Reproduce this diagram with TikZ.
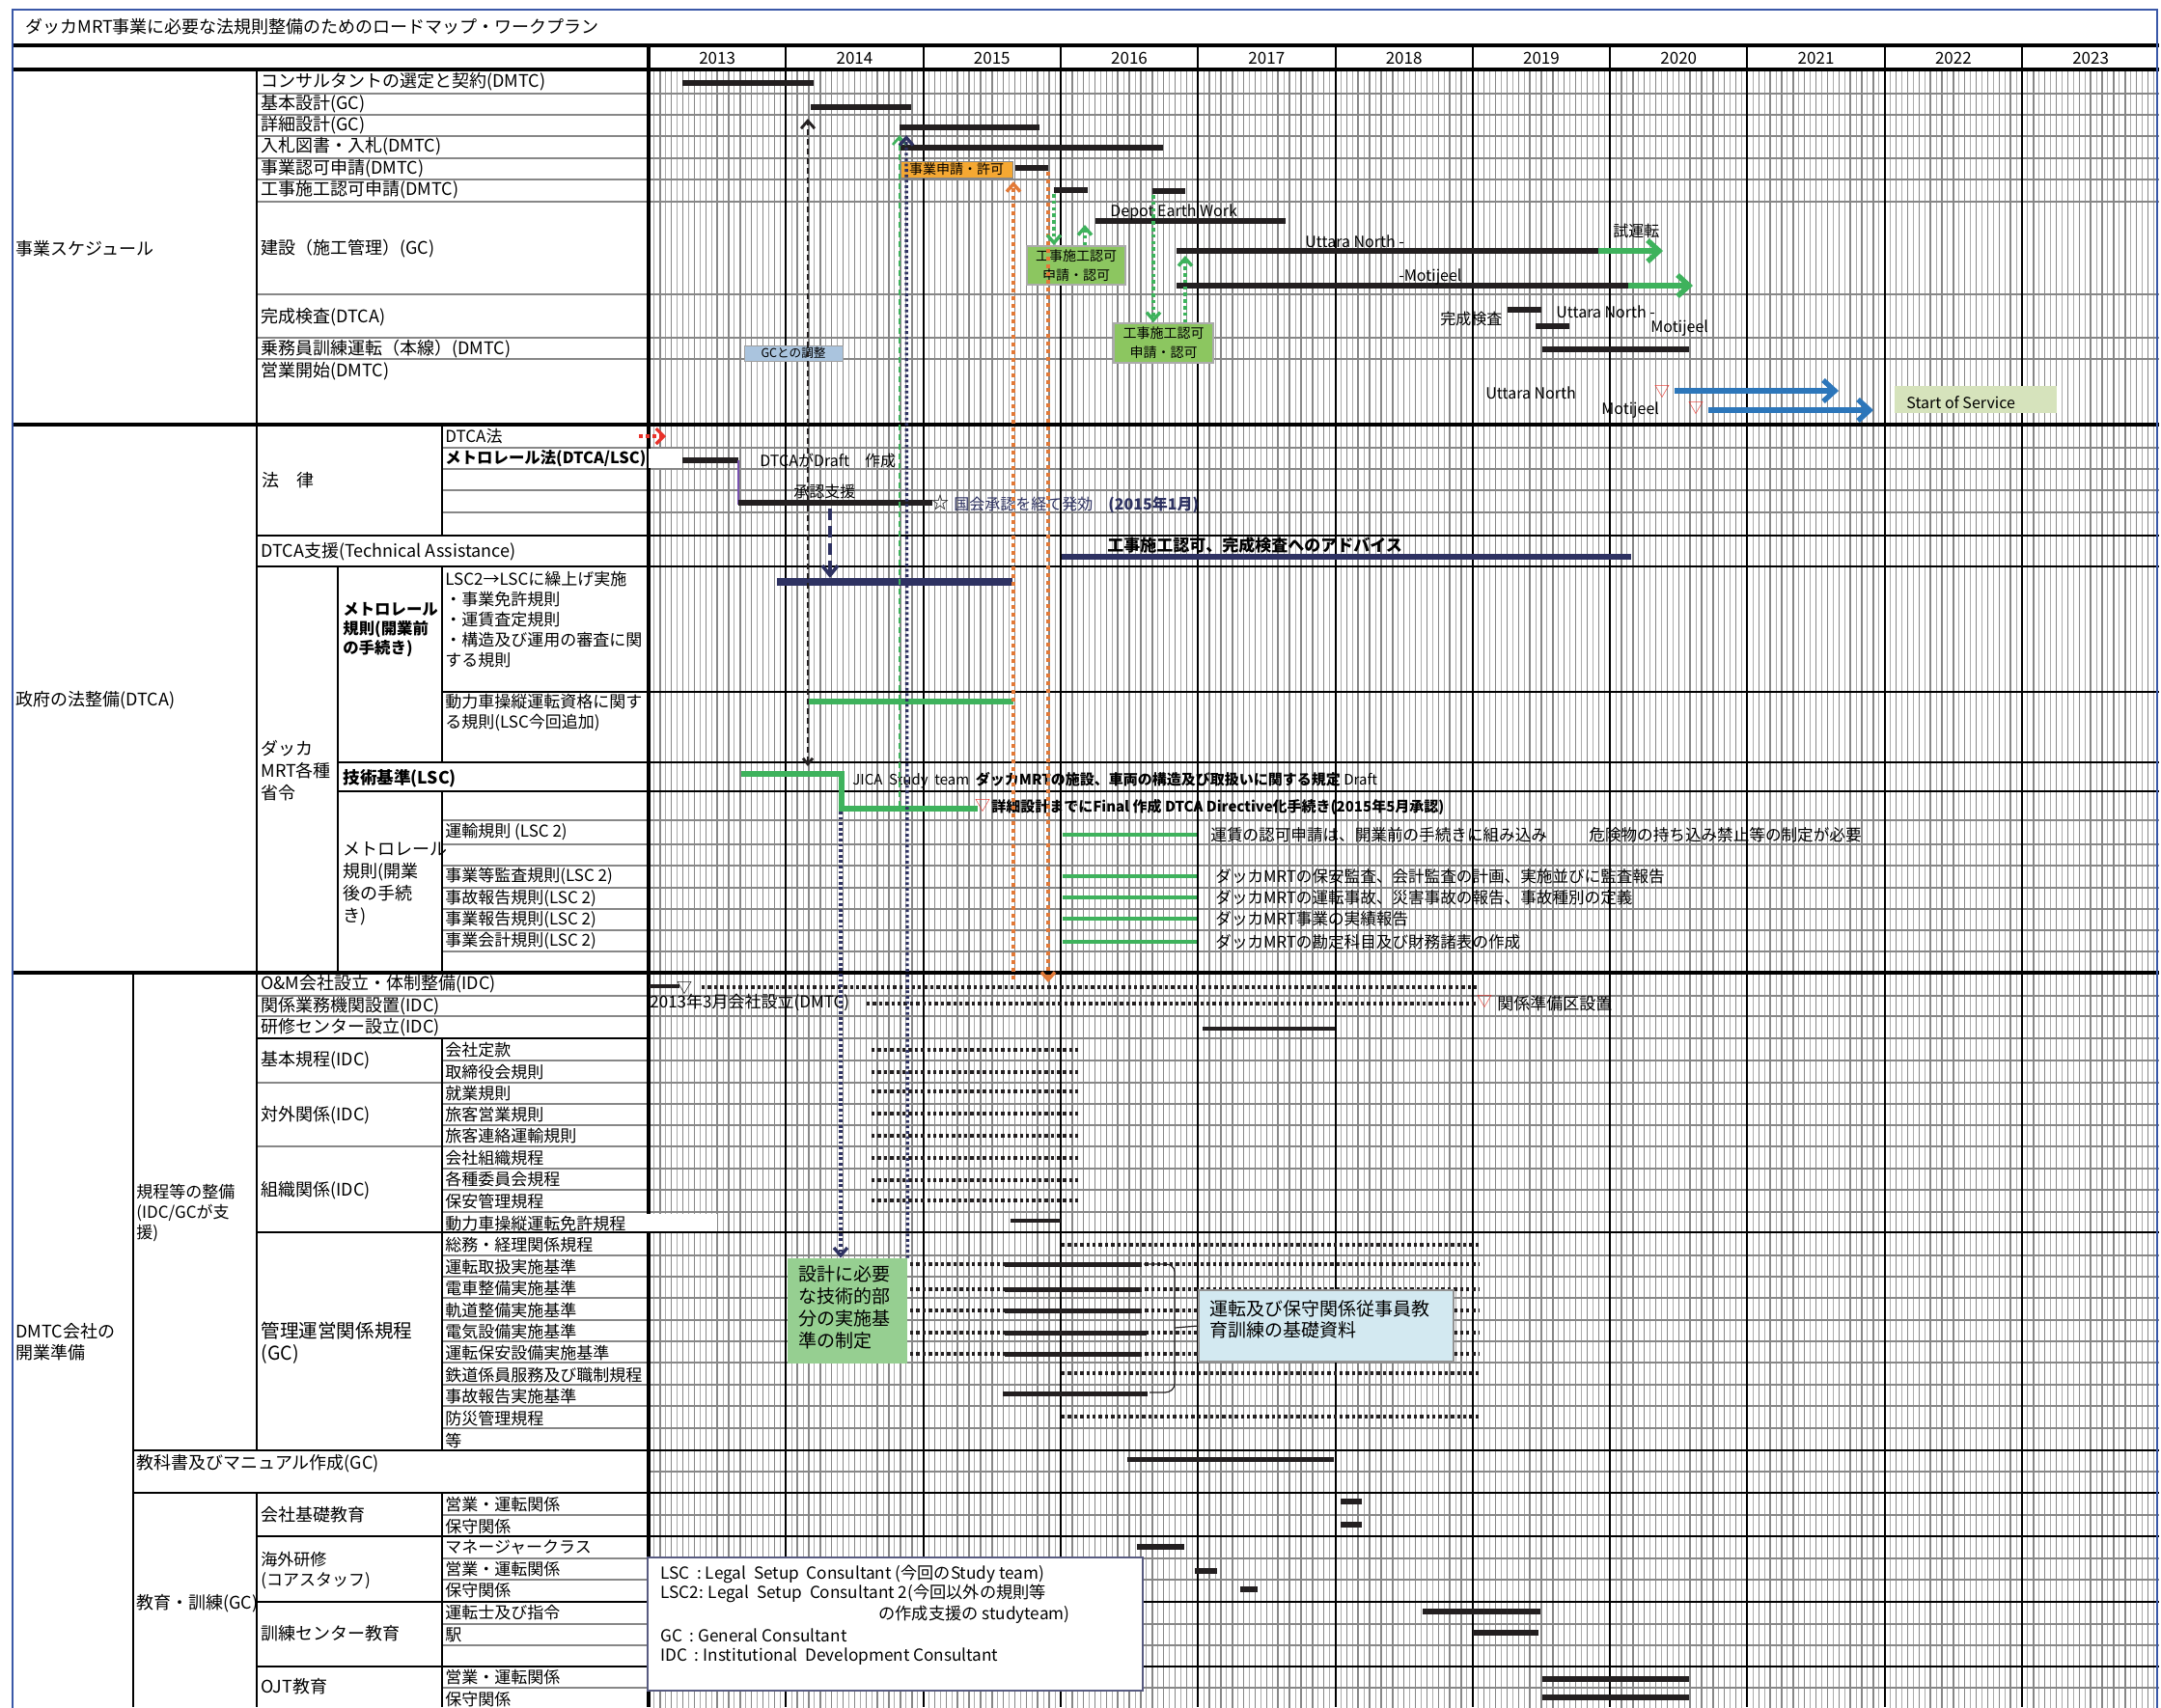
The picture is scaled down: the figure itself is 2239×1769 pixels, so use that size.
\documentclass[tikz,border=0pt]{standalone}
\usepackage{fontspec}
\setmainfont{Noto Sans CJK JP}
\usepackage{tikz}
\usetikzlibrary{arrows.meta}
\definecolor{barblk}{RGB}{35,31,32}
\definecolor{bargrn}{RGB}{62,178,92}
\definecolor{barnvy}{RGB}{46,50,98}
\definecolor{arrorg}{RGB}{226,122,56}
\definecolor{arrblu}{RGB}{44,118,186}
\definecolor{mkred}{RGB}{232,50,42}
\definecolor{lnpur}{RGB}{120,80,176}
\definecolor{frmblu}{RGB}{58,88,168}
\definecolor{fillorg}{RGB}{245,168,50}
\definecolor{fillgrn}{RGB}{140,198,96}
\definecolor{filllgr}{RGB}{150,207,145}
\definecolor{fillblu}{RGB}{211,233,241}
\definecolor{fillgcb}{RGB}{170,196,222}
\definecolor{fillsos}{RGB}{214,227,188}
\definecolor{grdgry}{RGB}{135,135,135}
\tikzset{
  lbl/.style    = {anchor=west, inner sep=0pt, font=\fontsize{9}{11}\selectfont},
  sublbl/.style = {anchor=west, inner sep=0pt, align=left, font=\fontsize{8.5}{10.5}\selectfont},
  lblb/.style   = {anchor=west, inner sep=0pt, align=left, font=\fontsize{8.2}{10}\selectfont\bfseries},
  note/.style   = {anchor=west, inner sep=0pt, font=\fontsize{8}{9.5}\selectfont},
  yrlbl/.style  = {inner sep=0pt, font=\fontsize{8.5}{10}\selectfont},
  mk/.style     = {inner sep=0pt, text=mkred, font=\fontsize{8}{9}\selectfont},
  grdm/.style   = {draw=grdgry, line width=0.75pt},
  grdh/.style   = {draw=grdgry!70, line width=0.5pt},
  rowln/.style  = {draw=grdgry, line width=1.3pt},
  blk/.style    = {draw=black, line width=1pt},
  blkthk/.style = {draw=black, line width=1.9pt},
  bar/.style    = {draw=barblk, line width=2.7pt},
  barthk/.style = {draw=barblk, line width=3.4pt},
  bargr/.style  = {draw=bargrn, line width=2.2pt},
  barnv/.style  = {draw=barnvy, line width=2.6pt},
  dotbar/.style = {draw=barblk, line width=1.9pt, dash pattern=on 1.7pt off 1.5pt},
  arrblk/.style = {draw=barblk, line width=1.4pt, dash pattern=on 3pt off 2pt,
                   {Straight Barb[length=3pt,width=5pt]}-{Straight Barb[length=4pt,width=7pt]}},
  arrnv/.style  = {draw=barnvy, line width=1.7pt, dash pattern=on 1.4pt off 1.4pt,
                   -{Straight Barb[length=4pt,width=7pt]}},
  arrnvd/.style = {draw=barnvy, line width=1.8pt, dash pattern=on 6pt off 3pt,
                   -{Straight Barb[length=5pt,width=8pt]}},
  arrgr/.style  = {draw=bargrn, line width=1.3pt, dash pattern=on 3pt off 2pt,
                   -{Straight Barb[length=4pt,width=7pt]}},
  arrgrd/.style = {draw=bargrn, line width=1.7pt, dash pattern=on 1.8pt off 1.6pt,
                   -{Straight Barb[length=4pt,width=7pt]}},
  arror/.style  = {draw=arrorg, line width=1.7pt, dash pattern=on 2.2pt off 1.8pt,
                   -{Straight Barb[length=4pt,width=7pt]}},
  arrbl/.style  = {draw=arrblu, line width=2.7pt, -{Straight Barb[length=6pt,width=11pt]}},
  arrgrt/.style = {draw=bargrn, line width=2.7pt, -{Straight Barb[length=6pt,width=11pt]}},
  cal/.style    = {draw=barblk, line width=0.6pt},
  boxor/.style  = {draw=grdgry, fill=fillorg, inner sep=0pt, font=\fontsize{7}{8}\selectfont},
  boxgr/.style  = {draw=grdgry!70, line width=0.8pt, fill=fillgrn, inner sep=0pt, align=center,
                   font=\fontsize{7}{10}\selectfont},
}
\begin{document}
\begin{tikzpicture}[x=0.5pt, y=-0.5pt]
  \useasboundingbox (0,0) rectangle (2239,1769);
  \clip (0,0) rectangle (2239,1769);
  \fill[white] (0,0) rectangle (2239,1769);
  \node[lbl] (ttl) at (26,28) {ダッカMRT事業に必要な法規則整備のためのロードマップ・ワークプラン};

  % month grid
  \foreach \k in {0,...,10} {
    \foreach \m in {1,...,11}
      \draw[grdm] ({672+142.3*\k+11.86*\m},72) -- ++(0,1710);
    \foreach \m in {0,...,11}
      \draw[grdh] ({672+142.3*\k+11.86*\m+5.93},72) -- ++(0,1710);
    \pgfmathtruncatemacro\yy{2013+\k}
    \node[yrlbl] (y\k) at ({672+142.3*(\k+0.5)},60) {\yy};
  }
  % row lines
  \foreach \r in {97,119,141,164,186,209,305,350,372,1032,1053,1076,1122,1188}
    \draw[rowln] (266,\r) -- (2237,\r);
  \foreach \r in {464,486,508,531,850,875,897,920,942,964,986,1099,1144,1166,1211,1233,1256,
                  1301,1323,1345,1368,1390,1412,1435,1457,1480,1570,1615,1637,1683,1705,1749}
    \draw[rowln] (458,\r) -- (2237,\r);
  \draw[rowln] (672,1525) -- (2237,1525);
  % frame lines
  \draw[blkthk] (13,47) -- (2237,47);
  \draw[blkthk] (13,72) -- (2237,72);
  \draw[blkthk] (13,440) -- (2237,440);
  \draw[blkthk] (13,1008) -- (2237,1008);
  \draw[blk] (266,555) -- (2237,555);
  \draw[blk] (266,587) -- (2237,587);
  \draw[blk] (458,717) -- (2237,717);
  \draw[blk] (350,790) -- (2237,790);
  \draw[blk] (350,820) -- (2237,820);
  \draw[blk] (266,1076) -- (672,1076);
  \draw[blk] (266,1277) -- (2237,1277);
  \draw[blk] (138,1503) -- (2237,1503);
  \draw[blk] (138,1547) -- (2237,1547);
  \foreach \r in {1592,1660,1727}
    \draw[blk] (266,\r) -- (2237,\r);
  \draw[blk] (266,72) -- (266,1503);
  \draw[blk] (266,1547) -- (266,1769);
  \draw[blk] (138,1008) -- (138,1769);
  \draw[blk] (458,440) -- (458,555);
  \draw[blk] (458,587) -- (458,790);
  \draw[blk] (458,820) -- (458,1008);
  \draw[blk] (458,1076) -- (458,1503);
  \draw[blk] (458,1547) -- (458,1769);
  \draw[blk] (350,587) -- (350,1008);
  \draw[blkthk] (672,47) -- (672,1769);
  \foreach \k in {1,...,10}
    \draw[blk] ({672+142.3*\k},47) -- ++(0,1722);

  % labels: schedule
  \node[lbl] (s1) at (16,258) {事業スケジュール};
  \node[lbl] (r1) at (270,85) {コンサルタントの選定と契約(DMTC)};
  \node[lbl] (r2) at (270,108) {基本設計(GC)};
  \node[lbl] (r3) at (270,130) {詳細設計(GC)};
  \node[lbl] (r4) at (270,152) {入札図書・入札(DMTC)};
  \node[lbl] (r5) at (270,175) {事業認可申請(DMTC)};
  \node[lbl] (r6) at (270,197) {工事施工認可申請(DMTC)};
  \node[lbl] (r7) at (270,258) {建設（施工管理）(GC)};
  \node[lbl] (r8) at (270,329) {完成検査(DTCA)};
  \node[lbl] (r9) at (270,362) {乗務員訓練運転（本線）(DMTC)};
  \node[lbl] (r10) at (270,385) {営業開始(DMTC)};
  % labels: law
  \node[lbl] (s2) at (16,726) {政府の法整備(DTCA)};
  \node[lbl] (lw) at (271,498) {法　律};
  \node[sublbl] (lw1) at (461,452) {DTCA法};
  \fill[white] (672,465) rectangle (706,485);
  \node[lblb] (lw2) at (461,475) {メトロレール法(DTCA/LSC)};
  \node[lbl] (ta) at (270,572) {DTCA支援(Technical Assistance)};
  \node[sublbl, font=\fontsize{9}{11.5}\selectfont] (mo) at (270,799) {ダッカ\\MRT各種\\省令};
  \node[lblb] (pre) at (355,653) {メトロレール\\規則(開業前\\の手続き)};
  \node[sublbl] (pre1) at (461,642) {LSC2→LSCに繰上げ実施\\・事業免許規則\\・運賃査定規則\\・構造及び運用の審査に関\\する規則};
  \node[sublbl] (pre2) at (461,739) {動力車操縦運転資格に関す\\る規則(LSC今回追加)};
  \node[lblb, font=\fontsize{8.8}{10}\selectfont\bfseries] (tec) at (355,807) {技術基準(LSC)};
  \node[sublbl, font=\fontsize{9}{11.5}\selectfont] (post) at (355,916) {メトロレール\\規則(開業\\後の手続\\き)};
  \node[sublbl] (po1) at (461,862) {運輸規則 (LSC 2)};
  \node[sublbl] (po2) at (461,908) {事業等監査規則(LSC 2)};
  \node[sublbl] (po3) at (461,931) {事故報告規則(LSC 2)};
  \node[sublbl] (po4) at (461,953) {事業報告規則(LSC 2)};
  \node[sublbl] (po5) at (461,975) {事業会計規則(LSC 2)};
  % labels: company
  \node[sublbl, font=\fontsize{9}{11}\selectfont] (s3) at (16,1391) {DMTC会社の\\開業準備};
  \node[sublbl] (kt) at (141,1257) {規程等の整備\\(IDC/GCが支\\援)};
  \node[lbl] (c1) at (270,1020) {O\&M会社設立・体制整備(IDC)};
  \node[lbl] (c2) at (270,1043) {関係業務機関設置(IDC)};
  \node[lbl] (c3) at (270,1065) {研修センター設立(IDC)};
  \node[lbl] (c4) at (270,1099) {基本規程(IDC)};
  \node[lbl] (c5) at (270,1156) {対外関係(IDC)};
  \node[lbl] (c6) at (270,1234) {組織関係(IDC)};
  \node[sublbl, font=\fontsize{9.8}{11.5}\selectfont] (c7) at (270,1392) {管理運営関係規程\\(GC)};
  \foreach \t/\yv [count=\i] in {会社定款/1088, 取締役会規則/1111, 就業規則/1133, 旅客営業規則/1155,
      旅客連絡運輸規則/1177, 会社組織規程/1200, 各種委員会規程/1222, 保安管理規程/1245,
      総務・経理関係規程/1290, 運転取扱実施基準/1313, 電車整備実施基準/1335,
      軌道整備実施基準/1358, 電気設備実施基準/1380, 運転保安設備実施基準/1402,
      鉄道係員服務及び職制規程/1425, 事故報告実施基準/1447, 防災管理規程/1470, 等/1493}
    \node[sublbl] (k\i) at (461,\yv) {\t};
  \fill[white] (459,1258) rectangle (743,1276);
  \node[sublbl] (kd) at (461,1268) {動力車操縦運転免許規程};
  \node[lbl] (tx) at (141,1517) {教科書及びマニュアル作成(GC)};
  \node[lbl] (ed) at (141,1662) {教育・訓練(GC)};
  \node[lbl] (e1) at (270,1570) {会社基礎教育};
  \node[sublbl] (e2) at (270,1627) {海外研修\\(コアスタッフ)};
  \node[lbl] (e3) at (270,1693) {訓練センター教育};
  \node[lbl] (e4) at (270,1748) {OJT教育};
  \foreach \t/\yv [count=\i] in {営業・運転関係/1559, 保守関係/1582, マネージャークラス/1603,
      営業・運転関係/1626, 保守関係/1648, 運転士及び指令/1671, 駅/1694,
      営業・運転関係/1738, 保守関係/1761}
    \node[sublbl] (ee\i) at (461,\yv) {\t};

  % schedule bars
  \draw[bar] (707,86) -- (843,86);
  \draw[bar] (840,111) -- (944,111);
  \draw[bar] (932,132) -- (1077,132);
  \draw[bar] (932,153) -- (1205,153);
  \draw[bar] (1052,174) -- (1086,174);
  \draw[bar] (1092,197) -- (1127,197);
  \draw[bar] (1194,198) -- (1228,198);
  \draw[bar] (1135,229) -- (1332,229);
  \draw[bar] (1219,260) -- (1656,260);
  \draw[bar] (1219,296) -- (1687,296);
  \draw[arrgrt] (1656,260) -- (1723,260);
  \draw[arrgrt] (1687,296) -- (1754,296);
  \draw[bar] (1562,321) -- (1597,321);
  \draw[bar] (1591,338) -- (1626,338);
  \draw[bar] (1598,362) -- (1750,362);
  \node[boxor, minimum width=58pt, minimum height=8.5pt] (bxo) at (991,175.5) {事業申請・許可};
  \node[boxgr, minimum width=51pt, minimum height=20pt] (gbox1) at (1115,275) {工事施工認可\\申請・認可};
  \node[boxgr, minimum width=51.5pt, minimum height=20.5pt] (gbox2) at (1205.5,355.5) {工事施工認可\\申請・認可};
  \node[draw=grdgry!80, fill=fillgcb, inner sep=0pt, minimum width=51pt, minimum height=8pt,
        font=\fontsize{6.3}{7}\selectfont] (gcb) at (822,366) {GCとの調整};
  \node[note] (dew) at (1150,220) {Depot Earth Work};
  \node[note] (un1) at (1352,250) {Uttara North -};
  \node[note] (srt) at (1671,239) {試運転};
  \node[note] (mj1) at (1449,287) {-Motijeel};
  \node[note] (kk) at (1492,330) {完成検査};
  \node[note] (un2) at (1612,323) {Uttara North -};
  \node[note] (mj2) at (1710,340) {Motijeel};
  \node[note] (un3) at (1539,407) {Uttara North};
  \node[note] (mj3) at (1659,425) {Motijeel};
  \node[mk] (tr1) at (1722,406) {▽};
  \node[mk] (tr2) at (1757,423) {▽};
  \draw[arrbl] (1735,405) -- (1905,405);
  \draw[arrbl] (1770,425) -- (1941,425);
  \node[fill=fillsos, inner sep=0pt, minimum width=84pt, minimum height=14pt] (sos) at (2047,414) {};
  \node[note] (sost) at (1975,417) {Start of Service};

  % law bars
  \draw[draw=mkred, line width=1.6pt, dash pattern=on 2pt off 1.5pt,
        -{Straight Barb[length=4pt,width=8pt]}] (662,452) -- (690,452);
  \draw[barthk] (707,477) -- (765,477);
  \draw[draw=lnpur, line width=1pt] (765,477) -- (765,523);
  \draw[barthk] (765,521) -- (966,521);
  \node[inner sep=0pt, font=\fontsize{9}{10}\selectfont] (str) at (974,521) {☆};
  \node[note] (dd) at (787,477) {DTCAがDraft　作成};
  \node[note] (ss) at (822,509) {承認支援};
  \node[note, text=barnvy] (kk2) at (988,523) {国会承認を経て発効　{\bfseries (2015年1月)}};
  \node[note, font=\fontsize{8.5}{10}\selectfont\bfseries] (adv) at (1147,565) {工事施工認可、完成検査へのアドバイス};
  \draw[barnv] (1100,577) -- (1690,577);
  \draw[barnv, line width=3.6pt] (805,603) -- (1049,603);
  \draw[bargr, line width=3.3pt] (836,727) -- (1050,727);
  \draw[bargr, line width=3pt] (768,802) -- (872,802) -- (872,838) -- (1013,838);
  \node[mk] (tr3) at (1018,835) {▽};
  \node[note, font=\fontsize{7.5}{9}\selectfont] (jc) at (883,809)
    {JICA\ \ Study\ \ team\ \ {\bfseries ダッカMRTの施設、車両の構造及び取扱いに関する規定}\ Draft};
  \node[note, font=\fontsize{7.5}{9}\selectfont\bfseries] (fn) at (1027,836)
    {詳細設計までにFinal\ 作成\ DTCA\ Directive化手続き(2015年5月承認)};
  \foreach \yv in {865,908,930,952,976}
    \draw[bargr] (1101,\yv) -- (1240,\yv);
  \node[note, font=\fontsize{8.3}{10}\selectfont] (a1) at (1254,865) {運賃の認可申請は、開業前の手続きに組み込み};
  \node[note, font=\fontsize{8.3}{10}\selectfont] (a2) at (1646,865) {危険物の持ち込み禁止等の制定が必要};
  \node[note, font=\fontsize{8.3}{10}\selectfont] (a3) at (1259,908) {ダッカMRTの保安監査、会計監査の計画、実施並びに監査報告};
  \node[note, font=\fontsize{8.3}{10}\selectfont] (a4) at (1259,930) {ダッカMRTの運転事故、災害事故の報告、事故種別の定義};
  \node[note, font=\fontsize{8.3}{10}\selectfont] (a5) at (1259,952) {ダッカMRT事業の実績報告};
  \node[note, font=\fontsize{8.3}{10}\selectfont] (a6) at (1259,976) {ダッカMRTの勘定科目及び財務諸表の作成};

  % company bars
  \draw[bar, line width=2.4pt] (673,1022) -- (704,1022);
  \node[inner sep=0pt, font=\fontsize{8}{9}\selectfont] (tr4) at (709,1024) {▽};
  \draw[dotbar] (727,1023) -- (1530,1023);
  \node[note, font=\fontsize{8.5}{10}\selectfont] (est) at (673,1039) {2013年3月会社設立(DMTC)};
  \draw[dotbar] (898,1040) -- (1530,1040);
  \node[mk] (tr5) at (1538,1038) {▽};
  \node[note, font=\fontsize{8.5}{10}\selectfont] (kj) at (1551,1040) {関係準備区設置};
  \draw[bar, line width=2.4pt] (1246,1066) -- (1383,1066);
  \foreach \yv in {1088,1111,1131,1154,1177,1200,1223,1244}
    \draw[dotbar] (903,\yv) -- (1117,\yv);
  \draw[bar, line width=2.4pt] (1047,1265) -- (1099,1265);
  \foreach \yv in {1290,1423,1468}
    \draw[dotbar] (1100,\yv) -- (1533,\yv);
  \foreach \yv in {1310,1336,1358,1381,1403}
    \draw[dotbar] (943,\yv) -- (1533,\yv);
  \foreach \yv in {1310,1336,1358,1403}
    \draw[bar, line width=2.5pt] (1041,\yv) -- (1183,\yv);
  \draw[bar, line width=2.5pt] (1041,1381) -- (1188,1381);
  \draw[bar, line width=2.5pt] (1039,1444) -- (1189,1444);
  \node[fill=filllgr, inner sep=0pt, minimum width=62pt, minimum height=54.5pt] (gbox3) at (878,1358.5) {};
  \node[sublbl, font=\fontsize{9.5}{11.5}\selectfont] (gt3) at (827,1355) {設計に必要\\な技術的部\\分の実施基\\準の制定};
  \node[draw=grdgry!90, line width=0.8pt, fill=fillblu, inner sep=0pt, minimum width=132pt,
        minimum height=37pt] (bbox) at (1374,1374) {};
  \node[sublbl, font=\fontsize{9.5}{11}\selectfont] (bt) at (1253,1367) {運転及び保守関係従事員教\\育訓練の基礎資料};
  \draw[cal] (1185,1310) -- (1208,1310) to[out=0,in=90] (1217,1318) -- (1217,1434)
             to[out=-90,in=0] (1207,1443) -- (1191,1443);
  \draw[cal] (1217,1376) -- (bbox.west);
  \draw[bar, line width=2.5pt] (1168,1512) -- (1382,1512);
  \draw[bar, line width=2.8pt] (1389,1556) -- (1411,1556);
  \draw[bar, line width=2.8pt] (1389,1580) -- (1411,1580);
  \draw[bar, line width=2.8pt] (1178,1603) -- (1227,1603);
  \draw[bar, line width=2.8pt] (1238,1628) -- (1261,1628);
  \draw[bar, line width=2.8pt] (1285,1647) -- (1303,1647);
  \draw[bar, line width=2.8pt] (1474,1670) -- (1596,1670);
  \draw[bar, line width=2.8pt] (1526,1692) -- (1594,1692);
  \draw[bar, line width=2.8pt] (1598,1740) -- (1750,1740);
  \draw[bar, line width=2.8pt] (1598,1759) -- (1750,1759);

  % links between rows
  \coordinate (kb) at (837,794);
  \coordinate (kt) at (837,123);
  \draw[arrblk] (kb) -- (kt);
  \coordinate (gb) at (932,836);
  \coordinate (gt) at (932,140);
  \draw[arrgr] (gb) -- (gt);
  \coordinate (nvt) at (939,140);
  \draw[arrnv] (gbox3.north east) -- (nvt);
  \coordinate (nvc) at (871,841);
  \draw[arrnv] (nvc) -- (nvc |- gbox3.north);
  \coordinate (nda) at (860,527);
  \coordinate (ndb) at (860,599);
  \draw[arrnvd] (nda) -- (ndb);
  \coordinate (ora) at (1050,1015);
  \coordinate (orb) at (1050,188);
  \draw[arror] (ora) -- (orb);
  \coordinate (orc) at (1086,178);
  \coordinate (ord) at (1086,1018);
  \draw[arror] (orc) -- (ord);
  \coordinate (ka1) at (1092,201);
  \draw[arrgrd] (ka1) -- (ka1 |- gbox1.north);
  \coordinate (dp1) at (1124,233);
  \draw[arrgrd] (gbox1.north -| dp1) -- (dp1);
  \coordinate (ka2) at (1195,202);
  \draw[arrgrd] (ka2) -- (ka2 |- gbox2.north);
  \coordinate (ut1) at (1228,265);
  \draw[arrgrd] (gbox2.north -| ut1) -- (ut1);

  % legend
  \node[draw=barnvy!80, line width=0.6pt, fill=white, inner sep=0pt, minimum width=256.5pt,
        minimum height=69pt] (leg) at (927.5,1683) {};
  \node[note, font=\fontsize{8.6}{10}\selectfont] (lg1) at (684,1631) {LSC\ \ : Legal\ \ Setup\ \ Consultant (今回のStudy team)};
  \node[note, font=\fontsize{8.6}{10}\selectfont] (lg2) at (684,1651) {LSC2: Legal\ \ Setup\ \ Consultant 2(今回以外の規則等};
  \node[note, anchor=east, font=\fontsize{8.6}{10}\selectfont] (lg3) at (1109,1673) {の作成支援の studyteam)};
  \node[note, font=\fontsize{8.6}{10}\selectfont] (lg4) at (684,1695) {GC\ \ : General Consultant};
  \node[note, font=\fontsize{8.6}{10}\selectfont] (lg5) at (684,1717) {IDC\ \ : Institutional\ \ Development Consultant};

  \draw[draw=frmblu, line width=1.3pt] (13,10) rectangle (2235,1800);
\end{tikzpicture}
\end{document}
